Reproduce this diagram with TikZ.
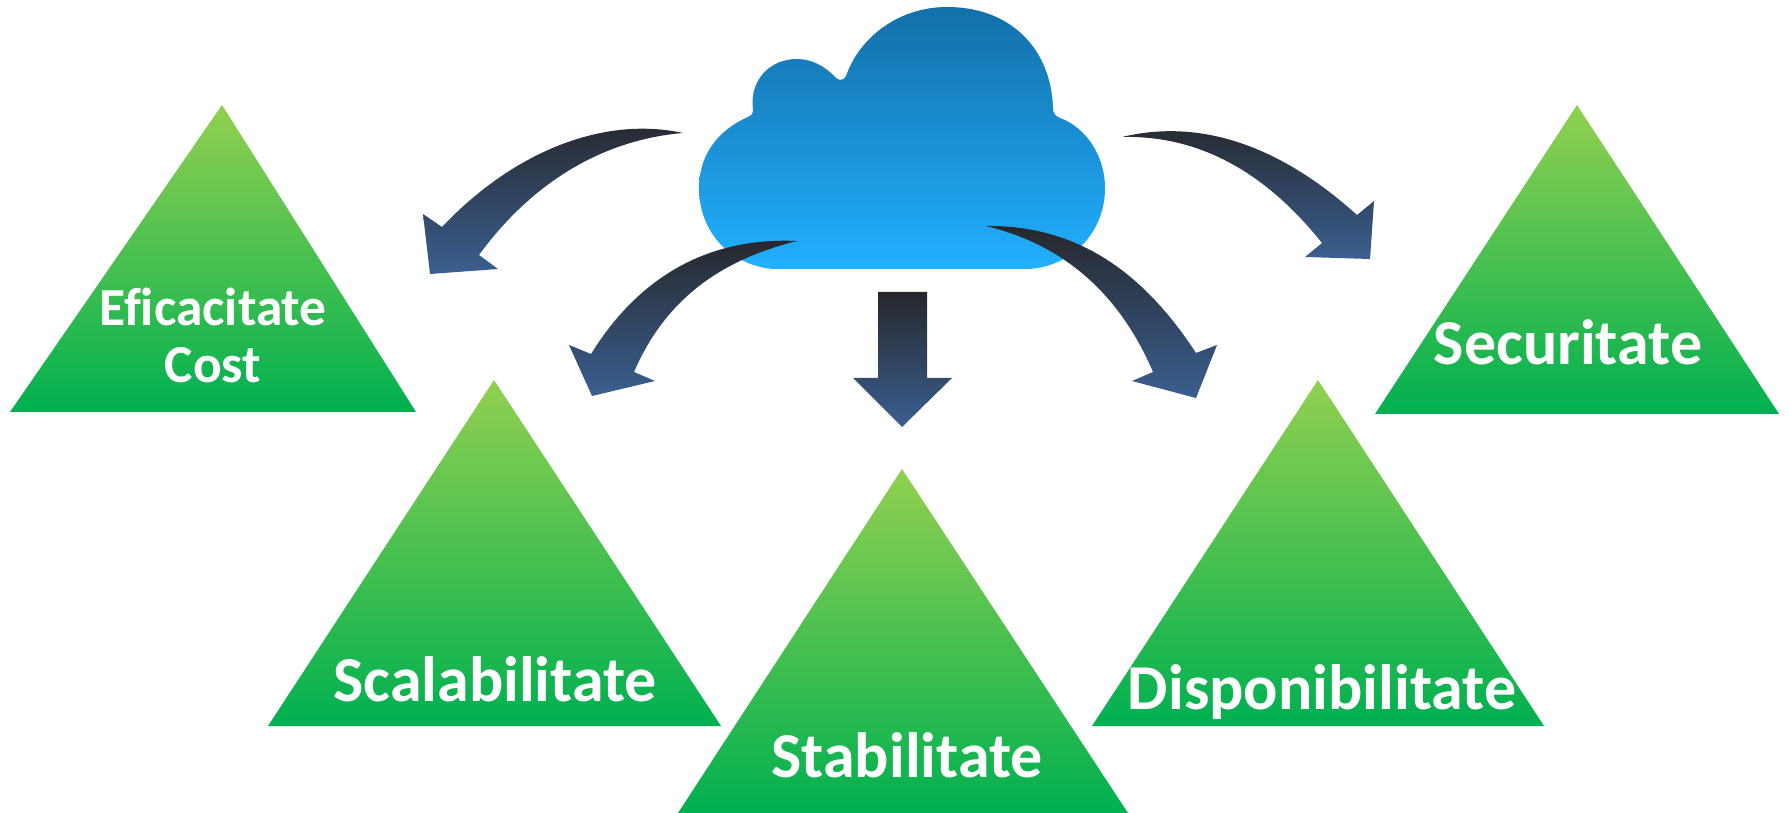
\documentclass[tikz,border=0pt]{standalone}
\usepackage{fontspec}
\setmainfont[Ligatures=NoCommon]{Carlito}
\usepackage{xcolor}
\definecolor{triTop}{HTML}{92D050}
\definecolor{triBot}{HTML}{00B050}
\definecolor{cloudTop}{HTML}{136FA8}
\definecolor{cloudBot}{HTML}{22B0FF}
\definecolor{arrTop}{HTML}{26272B}
\definecolor{arrBot}{HTML}{3A5F90}
\tikzset{
    triangle/.style={top color=triTop, bottom color=triBot, draw=none},
    bend arrow/.style={top color=arrTop, bottom color=arrBot, draw=none},
    label/.style={text=white, font=\fontsize{18.2}{22}\selectfont\bfseries, align=center, inner sep=0pt},
    small label/.style={label, font=\fontsize{15.2}{16.2}\selectfont\bfseries},
}

\begin{document}
\begin{tikzpicture}[x=0.01cm, y=-0.01cm]
        \useasboundingbox (0, 0) rectangle (1789, 813);

        \shade[top color=cloudTop, bottom color=cloudBot] (773, 269)
            .. controls (730, 265) and (699, 232) .. (699, 188)
            .. controls (699, 155) and (718, 130) .. (748, 117)
            .. controls (751, 116) and (753, 114) .. (753, 110)
            .. controls (749, 80) and (770, 59) .. (797, 59)
            .. controls (812, 59) and (826, 67) .. (835, 77)
            .. controls (838, 81) and (844, 81) .. (846, 76)
            .. controls (860, 36) and (900, 7) .. (947, 7)
            .. controls (1010, 7) and (1051, 48) .. (1053, 108)
            .. controls (1053, 113) and (1055, 116) .. (1060, 118)
            .. controls (1085, 127) and (1105, 155) .. (1105, 188)
            .. controls (1105, 230) and (1075, 265) .. (1030, 269)
            -- cycle;

        \shade[triangle] (222, 105) -- (10, 412) -- (416, 412) -- cycle;
        \shade[triangle] (494, 380) -- (268, 726) -- (721, 726) -- cycle;
        \shade[triangle] (902, 469) -- (678, 813) -- (1128, 813) -- cycle;
        \shade[triangle] (1318, 380) -- (1092, 726) -- (1544, 726) -- cycle;
        \shade[triangle] (1577, 105) -- (1375, 414) -- (1779, 414) -- cycle;

        \node[small label] (Eficacitate) at (213, 335) {Eficacitate\\Cost};
        \node[label] (Scalabilitate) at (495, 679) {Scalabilitate};
        \node[label] (Stabilitate) at (907, 755) {Stabilitate};
        \node[label] (Disponibilitate) at (1322, 692) {Disponibilitate};
        \node[label] (Securitate) at (1568, 342) {Securitate};

        \shade[bend arrow] (683, 133)
            .. controls (600, 115) and (510, 155) .. (442, 227)
            -- (423, 214) -- (430, 274) -- (498, 269) -- (479, 255)
            .. controls (530, 185) and (600, 140) .. (683, 133) -- cycle;
        \shade[bend arrow] (797, 241)
            .. controls (710, 237) and (640, 275) .. (591, 354)
            -- (569, 345) -- (592, 396) -- (655, 381) -- (634, 372)
            .. controls (665, 300) and (720, 260) .. (797, 241) -- cycle;
        \shade[bend arrow] (1122, 137)
            .. controls (1205, 117) and (1285, 150) .. (1357, 215)
            -- (1374, 201) -- (1370, 259) -- (1305, 257) -- (1322, 243)
            .. controls (1270, 178) and (1205, 135) .. (1122, 137) -- cycle;
        \shade[bend arrow] (986, 226)
            .. controls (1080, 225) and (1145, 275) .. (1196, 353)
            -- (1217, 345) -- (1196, 398) -- (1132, 381) -- (1153, 372)
            .. controls (1120, 295) and (1065, 245) .. (986, 226) -- cycle;
        \shade[bend arrow] (878, 292) -- (927, 292) -- (927, 378) -- (952, 378)
            -- (902, 427) -- (853, 378) -- (878, 378) -- cycle;
    \end{tikzpicture}
\end{document}
